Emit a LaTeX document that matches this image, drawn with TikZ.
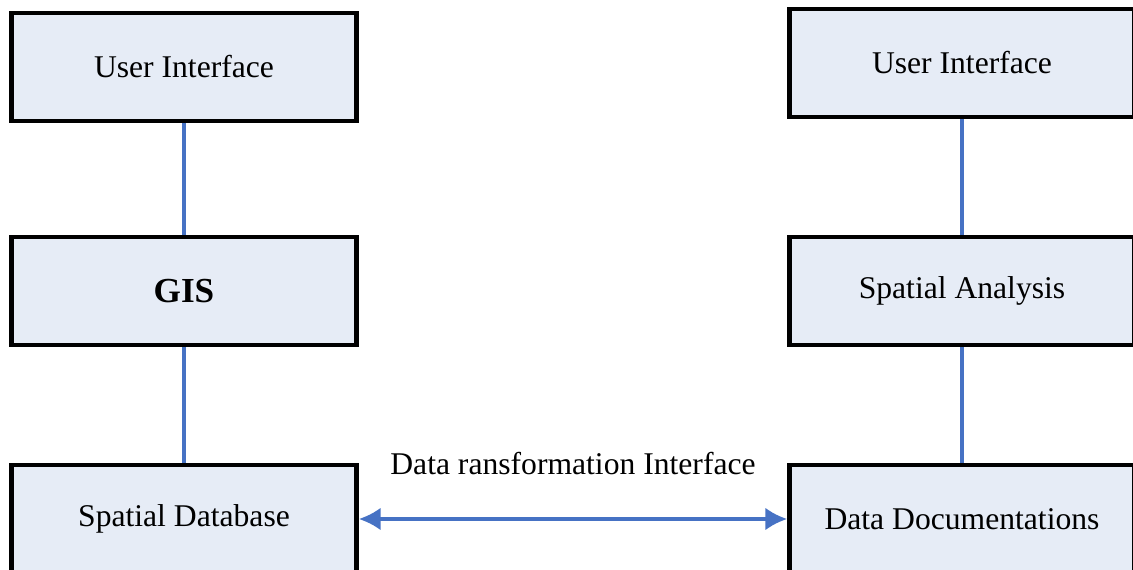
\documentclass[tikz,border=0pt]{standalone}
\usepackage{fontspec}
\setmainfont{Liberation Serif}
\usetikzlibrary{arrows.meta}
\definecolor{boxfill}{RGB}{230,236,246}
\definecolor{linkblue}{RGB}{70,114,196}
\begin{document}
\begin{tikzpicture}[x=0.02cm, y=-0.02cm,
    layer/.style={draw=black, line width=2.6pt, fill=boxfill, minimum width=6.9cm, minimum height=2.16cm, inner sep=0pt, font=\fontsize{18}{20}\selectfont},
    link/.style={draw=linkblue, line width=2.2pt}]
    \clip (0, 0) rectangle (1133, 570);
    \useasboundingbox (0, 0) rectangle (1133, 570);
    \node[layer] (gisui) at (184, 67) {User Interface};
    \node[layer, font=\fontsize{20}{22}\selectfont\bfseries] (gis) at (184, 291) {GIS};
    \node[layer] (spdb) at (184, 519) {Spatial Database};
    \node[layer] (sdui) at (962, 63) {User Interface};
    \node[layer] (span) at (962, 291) {Spatial Analysis};
    \node[layer] (ddoc) at (962, 519) {Data Documentations};
    \draw[link] (gisui) -- (gis);
    \draw[link] (gis) -- (spdb);
    \draw[link] (sdui) -- (span);
    \draw[link] (span) -- (ddoc);
    \draw[link, {Latex[length=0.44cm, width=0.46cm]}-{Latex[length=0.44cm, width=0.46cm]}] (spdb) -- (ddoc)
        node[midway, above=0.72cm, font=\fontsize{18}{20}\selectfont] (dtlabel) {Data ransformation Interface};
\end{tikzpicture}
\end{document}
